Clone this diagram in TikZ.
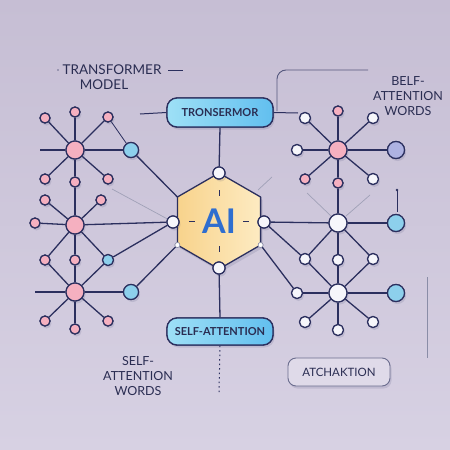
\documentclass[tikz,border=0pt]{standalone}
\usepackage{fontspec}
\setmainfont{Lato}
\usetikzlibrary{shadows}
\definecolor{navy}{HTML}{2B2F5E}
\definecolor{txt}{HTML}{2A2D52}
\definecolor{pinkc}{HTML}{F5B0C0}
\definecolor{bluec}{HTML}{8DD0EC}
\definecolor{whitec}{HTML}{F6F6FB}
\definecolor{lavc}{HTML}{AEB2E2}
\definecolor{bgtop}{HTML}{C6BED4}
\definecolor{bgbot}{HTML}{D7D1E3}
\definecolor{aiblue}{HTML}{2F6ECF}
\definecolor{hexa}{HTML}{F8D38C}
\definecolor{hexb}{HTML}{FDEBC2}
\definecolor{boxa}{HTML}{9EE0F6}
\definecolor{boxb}{HTML}{62BFEF}
\tikzset{
  ln/.style={draw=navy, line width=1.3pt},
  faint/.style={draw=navy!45, line width=0.7pt},
  dotn/.style={circle, draw=navy, line width=1.2pt, inner sep=0pt},
  pk/.style={dotn, fill=pinkc, minimum size=10pt},
  pkbig/.style={dotn, fill=pinkc, minimum size=18pt},
  bl/.style={dotn, fill=bluec, minimum size=15pt},
  blsm/.style={dotn, fill=bluec, minimum size=11pt},
  wh/.style={dotn, fill=whitec, minimum size=11pt},
  whbig/.style={dotn, fill=whitec, minimum size=18pt},
  tiny/.style={circle, fill=white, draw=navy!60, line width=0.5pt, inner sep=0pt, minimum size=5pt},
  sh/.style={drop shadow={shadow xshift=1.5pt, shadow yshift=-2.5pt, opacity=0.12, fill=navy}},
  cyanbox/.style={draw=navy, line width=1.3pt, rounded corners=10pt, left color=boxa, right color=boxb, minimum width=106pt, inner sep=0pt, text=txt, font=\bfseries\fontsize{11}{13}\selectfont},
  label/.style={text=txt, font=\fontsize{12.5}{15}\selectfont, align=center, inner sep=0pt}
}
\begin{document}
\begin{tikzpicture}[x=1pt, y=-1pt]
\useasboundingbox (0,0) rectangle (450,450);
\shade[top color=bgtop, bottom color=bgbot] (0,0) rectangle (450,450);

% ---------- coordinates ----------
\coordinate (hvt) at (219,173);
\coordinate (hvur) at (260.6,197);
\coordinate (hvlr) at (260.6,245);
\coordinate (hvb) at (219,269);
\coordinate (hvll) at (177.4,245);
\coordinate (hvul) at (177.4,197);
\coordinate (L1end) at (40,150);
\coordinate (L3end) at (35,292);
\coordinate (Tw) at (140,114);
\coordinate (Te) at (298,113);
\coordinate (Sdown) at (219,393);
\coordinate (f1) at (112,189);
\coordinate (br0) at (277,111);
\coordinate (br1) at (368,70);

% ---------- hexagon ----------
\fill[navy, opacity=0.12] ([shift={(2,3)}]hvt) -- ([shift={(2,3)}]hvur) -- ([shift={(2,3)}]hvlr) -- ([shift={(2,3)}]hvb) -- ([shift={(2,3)}]hvll) -- ([shift={(2,3)}]hvul) -- cycle;
\shade[left color=hexa, right color=hexb]
  (hvt) -- (hvur) -- (hvlr) -- (hvb) -- (hvll) -- (hvul) -- cycle;
\draw[navy, line width=1.3pt, line join=round]
  (hvt) -- (hvur) -- (hvlr) -- (hvb) -- (hvll) -- (hvul) -- cycle;
\node[text=aiblue, font=\bfseries\fontsize{34}{34}\selectfont, inner sep=0pt] (AI) at (219,221) {AI};
\draw[navy, line width=1pt] (219,190) -- (219,196) (219,246) -- (219,252) (189,221) -- (195,221) (243,221) -- (249,221);

% ---------- boxes ----------
\node[cyanbox, minimum height=29pt] (T) at (220,112.5) {TRONSERMOR};
\node[cyanbox, minimum height=27pt] (S) at (220,331.5) {SELF-ATTENTION};
\node[draw=navy!70, line width=0.9pt, rounded corners=8pt, fill=bgbot!80!white, minimum width=102pt, minimum height=28pt, text=txt, font=\fontsize{11.5}{13}\selectfont, inner sep=0pt, sh] (A) at (339,372) {ATCHAKTION};

% ---------- left nodes ----------
\node[pkbig] (L1c) at (75,150) {};
\node[pk] (L1t) at (75,112) {};
\node[pk] (L1ul) at (45,118) {};
\node[pk] (L1ur) at (108,117) {};
\node[pk] (L1ll) at (45,179) {};
\node[pk] (L1b) at (75,182) {};
\node[pk] (L1lr) at (108,179) {};
\node[bl] (L1r) at (131,150) {};

\node[pkbig] (L2c) at (75,225) {};
\node[pk] (L2ul) at (45,200) {};
\node[pk] (L2ur) at (101,200) {};
\node[pk] (L2l) at (35,223) {};
\node[pk] (L2ll) at (45,260) {};
\node[pk] (L2b) at (75,260) {};
\node[blsm] (L2lr) at (108,260) {};

\node[pkbig] (L3c) at (75,292) {};
\node[bl] (L3r) at (131,292) {};
\node[pk] (L3ll) at (45,321) {};
\node[pk] (L3b) at (75,329) {};
\node[pk] (L3lr) at (108,321) {};

% ---------- hex nodes ----------
\node[wh, minimum size=12pt] (HT) at (219,173) {};
\node[wh, minimum size=12pt] (HB) at (219,268) {};
\node[wh, minimum size=12pt] (HL) at (173,222) {};
\node[wh, minimum size=12pt] (HR) at (264,222) {};
\node[tiny] (HLL) at (hvll) {};
\node[tiny] (HLR) at (hvlr) {};

% ---------- right nodes ----------
\node[pkbig] (R1c) at (338,150) {};
\node[pk] (R1t) at (338,111) {};
\node[wh] (R1ul) at (305,118) {};
\node[wh] (R1ur) at (373,118) {};
\node[wh] (R1l) at (297,150) {};
\node[dotn, fill=lavc, minimum size=17pt] (R1r) at (396,150) {};
\node[pk] (R1ll) at (305,179) {};
\node[pk] (R1b) at (338,183) {};
\node[wh] (R1lr) at (373,179) {};

\node[whbig] (R2c) at (338,223) {};
\node[dotn, fill=bluec, minimum size=17pt] (R2r) at (396,223) {};
\node[wh] (R2ll) at (305,259) {};
\node[wh] (R2b) at (338,260) {};
\node[wh] (R2lr) at (373,259) {};

\node[whbig] (R3c) at (338,293) {};
\node[wh] (R3l) at (297,293) {};
\node[dotn, fill=bluec, minimum size=17pt] (R3r) at (396,293) {};
\node[wh] (R3ll) at (305,322) {};
\node[wh] (R3b) at (338,330) {};
\node[wh] (R3lr) at (373,322) {};

% ---------- connectors ----------
\foreach \n in {L1t,L1ul,L1ur,L1ll,L1b,L1lr,L1r} \draw[ln] (L1c) -- (\n);
\draw[ln] (L1c) -- (L1end);
\draw[ln, line width=0.8pt] (L1ur) -- (L1r);
\draw[ln] (L1r) -- (hvul);
\draw[ln] (L1b) -- (L2c);
\foreach \n in {L2ul,L2ur,L2l,L2ll,L2b,L2lr} \draw[ln] (L2c) -- (\n);
\draw[ln] (L2c) -- (HL);
\draw[ln] (L2lr) -- (HL);
\draw[faint] (f1) -- (HL);
\foreach \n in {L2ll,L2b,L2lr} \draw[ln] (\n) -- (L3c);
\foreach \n in {L3r,L3ll,L3b,L3lr} \draw[ln] (L3c) -- (\n);
\draw[ln] (L3c) -- (L3end);
\draw[ln] (L3r) -- (HLL);

\draw[ln] (HT) -- (T.south);
\draw[ln] (HB) -- (S.north);
\draw[navy, line width=1pt, dash pattern=on 1.5pt off 3pt] (S.south) -- (Sdown);
\draw[ln, line width=1pt] (T.west) -- (Tw);
\draw[ln, line width=1pt] (T.east) -- (Te);
\draw[navy!80, line width=0.9pt, rounded corners=9pt] (br0) -- (277,70) -- (br1);

\foreach \n in {R1t,R1ul,R1ur,R1l,R1r,R1ll,R1b,R1lr} \draw[ln] (R1c) -- (\n);
\draw[ln] (R1b) -- (R2c);
\draw[ln] (HR) -- (R2c);
\draw[ln] (R2c) -- (R2r);
\foreach \n in {R2ll,R2b,R2lr} {\draw[ln] (R2c) -- (\n); \draw[ln] (\n) -- (R3c);}
\draw[ln] (HR) -- (R2ll);
\draw[ln] (HLR) -- (R3l);
\foreach \n in {R3l,R3r,R3ll,R3b,R3lr} \draw[ln] (R3c) -- (\n);
\draw[faint] (307,193) -- (331,216);
\draw[faint] (370,195) -- (346,216);
\draw[faint] (258,190) -- (272,177);
\draw[navy, line width=0.9pt] (397,190) -- (397,212);
\fill[navy] (397,190) circle (1.3pt);
\draw[navy!55, line width=0.6pt] (427,277) -- (427,358);
\draw[navy, line width=0.8pt] (168,70) -- (183,70);
\fill[navy!70] (58,70) circle (0.8pt);

% redraw nodes on top
\foreach \n/\s in {L1c/pkbig,L1t/pk,L1ul/pk,L1ur/pk,L1ll/pk,L1b/pk,L1lr/pk,L1r/bl,
  L2c/pkbig,L2ul/pk,L2ur/pk,L2l/pk,L2ll/pk,L2b/pk,L2lr/blsm,
  L3c/pkbig,L3r/bl,L3ll/pk,L3b/pk,L3lr/pk,
  R1c/pkbig,R1t/pk,R1ul/wh,R1ur/wh,R1l/wh,R1ll/pk,R1b/pk,R1lr/wh,
  R2c/whbig,R2ll/wh,R2b/wh,R2lr/wh,R3c/whbig,R3l/wh,R3ll/wh,R3b/wh,R3lr/wh}
  \node[\s, sh] at (\n) {};
\node[wh, sh, minimum size=12pt] at (HT) {};
\node[wh, sh, minimum size=12pt] at (HB) {};
\node[wh, sh, minimum size=12pt] at (HL) {};
\node[wh, sh, minimum size=12pt] at (HR) {};
\node[tiny] at (HLL) {};
\node[tiny] at (HLR) {};
\node[dotn, sh, fill=lavc, minimum size=17pt] at (R1r) {};
\node[dotn, sh, fill=bluec, minimum size=17pt] at (R2r) {};
\node[dotn, sh, fill=bluec, minimum size=17pt] at (R3r) {};
\node[cyanbox, sh, minimum height=29pt] at (T) {TRONSERMOR};
\node[cyanbox, sh, minimum height=27pt] at (S) {SELF-ATTENTION};

% ---------- labels ----------
\node[label, font=\fontsize{13.5}{15}\selectfont] (tm1) at (112,70) {TRANSFORMER};
\node[label, font=\fontsize{13.5}{15}\selectfont] (tm2) at (104,84.5) {MODEL};
\node[label] (bw) at (408,96) {BELF-\\ATTENTION\\WORDS};
\node[label] (sw) at (138,376.5) {SELF-\\ATTENTION\\WORDS};
\end{tikzpicture}
\end{document}
